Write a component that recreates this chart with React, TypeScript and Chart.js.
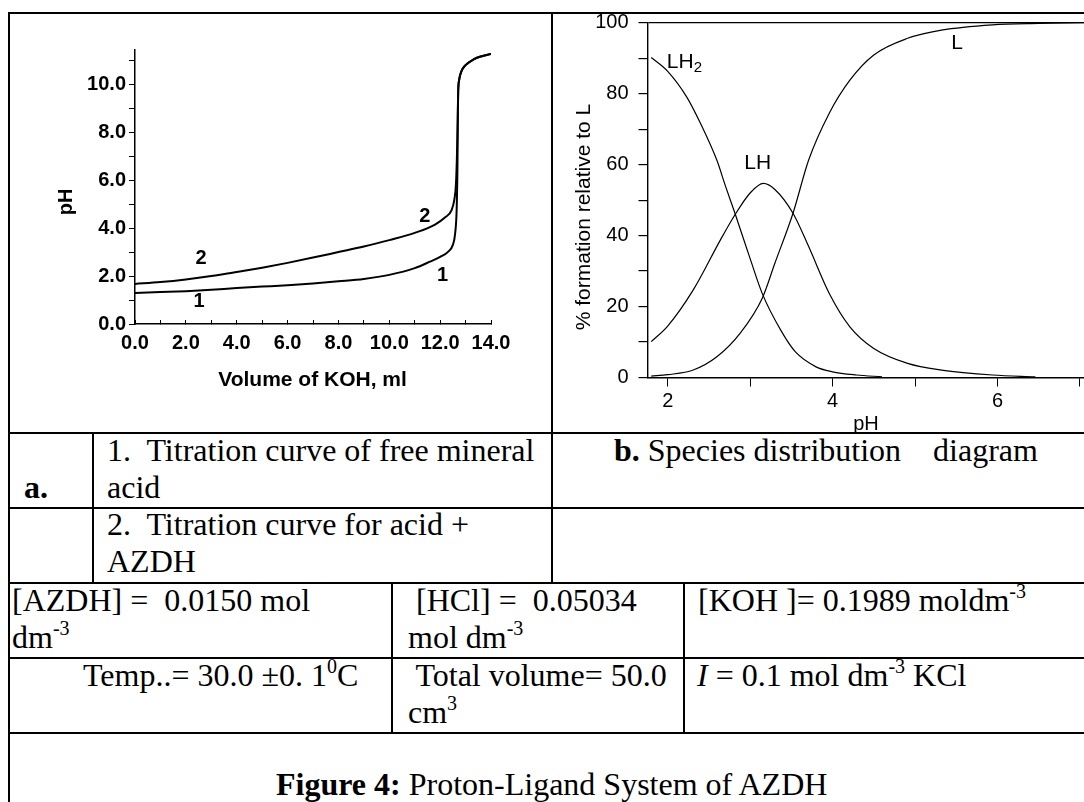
import React, { useEffect, useRef } from 'react';
import { Chart, registerables } from 'chart.js';

Chart.register(...registerables);

// ---- Chart a: titration curves (Volume of KOH, ml vs pH) ----
const volume1 = [0, 1, 2, 3, 4, 5, 6, 7, 8, 9, 10, 11, 11.6, 12.0, 12.3, 12.5, 12.59, 12.65, 12.68, 12.7, 12.71, 12.75, 12.84, 13.0, 13.3, 13.6, 14.0];
const pH1 = [1.29, 1.33, 1.37, 1.43, 1.5, 1.56, 1.62, 1.69, 1.78, 1.88, 2.05, 2.33, 2.6, 2.8, 3.0, 3.3, 3.78, 4.8, 6.5, 9.0, 9.7, 10.2, 10.55, 10.8, 11.03, 11.16, 11.27];

const volume2 = [0, 1, 2, 3, 4, 5, 6, 7, 8, 9, 10, 11, 11.8, 12.2, 12.45, 12.56, 12.62, 12.66, 12.69, 12.71, 12.75, 12.84, 13.0, 13.3, 13.6, 14.0];
const pH2 = [1.67, 1.75, 1.86, 2.0, 2.17, 2.35, 2.55, 2.77, 3.0, 3.23, 3.5, 3.8, 4.15, 4.45, 4.75, 5.2, 5.8, 7.0, 8.6, 9.7, 10.2, 10.55, 10.8, 11.03, 11.16, 11.27];

const curveLabelsA = ['2', '1', '2', '1'];

// ---- Chart b: species distribution (pH vs % formation relative to L) ----
const lh2PH = [1.8, 2.0, 2.23, 2.4, 2.6, 2.7, 2.82, 3.0, 3.15, 3.38, 3.55, 3.8, 4.0, 4.29, 4.6];
const lh2Pct = [90.2, 86.3, 79.1, 71.5, 61.0, 54.0, 46.0, 33.5, 23.5, 13.0, 7.2, 3.0, 1.6, 0.7, 0.2];

const lhPH = [1.8, 2.0, 2.31, 2.64, 2.82, 3.0, 3.16, 3.3, 3.52, 3.71, 3.96, 4.21, 4.5, 4.91, 5.32, 5.94, 6.46];
const lhPct = [10.1, 14.5, 24.7, 38.8, 46.0, 52.0, 54.7, 53.0, 46.3, 36.9, 23.7, 14.3, 8.2, 4.0, 2.1, 0.7, 0.2];

const lPH = [1.8, 2.0, 2.31, 2.6, 2.88, 3.15, 3.3, 3.52, 3.71, 3.96, 4.21, 4.5, 4.91, 5.32, 5.94, 6.5, 7.05];
const lPct = [0.4, 0.8, 2.1, 5.9, 12.5, 22.5, 32.2, 46.3, 61.3, 74.5, 83.8, 90.9, 95.6, 97.9, 99.4, 99.8, 100];

const speciesNames = ['LH', 'LH', 'L'];

const W = 1084;
const H = 802;

const pts = (xs: number[], ys: number[]) => xs.map((x, i) => ({ x, y: ys[i] }));

type Item = {
  text: string;
  sub?: string;
  x: number;
  y: number;
  data?: boolean;
  font: string;
  subFont?: string;
  align?: CanvasTextAlign;
  rotate?: number;
};

const makeTextPlugin = (items: Item[]) => ({
  id: 'textLabels',
  afterDraw(chart: any) {
    const ctx = chart.ctx as CanvasRenderingContext2D;
    for (const it of items) {
      let x = it.x;
      let y = it.y;
      if (it.data) {
        x = chart.scales.x.getPixelForValue(it.x);
        y = chart.scales.y.getPixelForValue(it.y);
      }
      ctx.save();
      ctx.fillStyle = '#000';
      ctx.font = it.font;
      ctx.textBaseline = 'middle';
      ctx.textAlign = it.align || 'center';
      ctx.translate(x, y);
      if (it.rotate) ctx.rotate(it.rotate);
      ctx.fillText(it.text, 0, 0);
      if (it.sub) {
        const w = ctx.measureText(it.text).width;
        ctx.font = it.subFont || it.font;
        ctx.textAlign = 'left';
        ctx.fillText(it.sub, w, 6);
      }
      ctx.restore();
    }
  },
});

const sansFam = '"Liberation Sans", Arial, sans-serif';

function ChartA() {
  const ref = useRef<HTMLCanvasElement>(null);
  useEffect(() => {
    if (!ref.current) return;
    const labelFont = `bold 20px ${sansFam}`;
    const items: Item[] = [
      { text: curveLabelsA[0], x: 2.6, y: 2.75, data: true, font: labelFont },
      { text: curveLabelsA[1], x: 2.52, y: 0.93, data: true, font: labelFont },
      { text: curveLabelsA[2], x: 11.4, y: 4.47, data: true, font: labelFont },
      { text: curveLabelsA[3], x: 12.1, y: 2.04, data: true, font: labelFont },
      { text: 'pH', x: 66, y: 202, font: labelFont, rotate: -Math.PI / 2 },
      { text: 'Volume of KOH, ml', x: 312.5, y: 380, font: `bold 21px ${sansFam}` },
    ];
    const chart = new Chart(ref.current, {
      type: 'scatter',
      data: {
        datasets: [
          { data: pts(volume1, pH1), showLine: true, borderColor: '#000', borderWidth: 2, pointRadius: 0, cubicInterpolationMode: 'monotone' },
          { data: pts(volume2, pH2), showLine: true, borderColor: '#000', borderWidth: 2, pointRadius: 0, cubicInterpolationMode: 'monotone' },
        ],
      },
      options: {
        animation: false,
        responsive: false,
        devicePixelRatio: 1,
        layout: { padding: { left: 0, top: 49.3, right: W - 491, bottom: 0 } },
        plugins: { legend: { display: false }, tooltip: { enabled: false } },
        scales: {
          x: {
            type: 'linear',
            min: 0,
            max: 14,
            afterFit: (s: any) => { s.height = H - 324; },
            border: { display: true, color: '#000', width: 1.5 },
            grid: { drawOnChartArea: false, tickLength: -4, color: '#000', tickColor: '#000' },
            ticks: {
              stepSize: 1,
              autoSkip: false,
              maxRotation: 0,
              includeBounds: false,
              padding: 11,
              color: '#000',
              font: { family: sansFam, size: 20, weight: 'bold' },
              callback: (v: any) => (Number(v) % 2 === 0 ? Number(v).toFixed(1) : ''),
            },
          },
          y: {
            type: 'linear',
            min: 0,
            max: 11.46,
            afterFit: (s: any) => { s.width = 135; },
            border: { display: true, color: '#000', width: 1.5 },
            grid: { drawOnChartArea: false, tickLength: 6, color: '#000', tickColor: '#000' },
            ticks: {
              stepSize: 1,
              autoSkip: false,
              includeBounds: false,
              padding: 3,
              color: '#000',
              font: { family: sansFam, size: 20, weight: 'bold' },
              callback: (v: any) => (Number(v) % 2 === 0 ? Number(v).toFixed(1) : ''),
            },
          },
        },
      } as any,
      plugins: [makeTextPlugin(items)],
    });
    return () => chart.destroy();
  }, []);
  return <canvas ref={ref} width={W} height={H} style={{ position: 'absolute', left: 0, top: 0, width: W, height: H, pointerEvents: 'none' }} />;
}

function ChartB() {
  const ref = useRef<HTMLCanvasElement>(null);
  useEffect(() => {
    if (!ref.current) return;
    const f = sansFam;
    const items: Item[] = [
      { text: speciesNames[0], sub: '2', x: 1.99, y: 89, data: true, font: `21px ${f}`, subFont: `15px ${f}`, align: 'left' },
      { text: speciesNames[1], x: 2.93, y: 60.5, data: true, font: `21px ${f}`, align: 'left' },
      { text: speciesNames[2], x: 5.44, y: 94.2, data: true, font: `21px ${f}`, align: 'left' },
      { text: '% formation relative to L', x: 584, y: 217, font: `21px ${f}`, rotate: -Math.PI / 2 },
      { text: 'pH', x: 866, y: 424, font: `20px ${f}` },
    ];
    const line = { showLine: true, borderColor: '#000', borderWidth: 1.2, pointRadius: 0, cubicInterpolationMode: 'monotone' };
    const chart = new Chart(ref.current, {
      type: 'scatter',
      data: {
        datasets: [
          { ...line, data: pts(lh2PH, lh2Pct) },
          { ...line, data: pts(lhPH, lhPct) },
          { ...line, data: pts(lPH, lPct) },
        ],
      },
      options: {
        animation: false,
        responsive: false,
        devicePixelRatio: 1,
        layout: { padding: { left: 0, top: 22.7, right: 0, bottom: 0 } },
        plugins: { legend: { display: false }, tooltip: { enabled: false } },
        scales: {
          x: {
            type: 'linear',
            min: 1.755,
            max: 7.05,
            afterFit: (s: any) => { s.height = H - 377.5; },
            border: { display: true, color: '#000', width: 1.4 },
            grid: { drawOnChartArea: false, tickLength: 9, color: '#000', tickColor: '#000' },
            ticks: {
              stepSize: 1,
              autoSkip: false,
              maxRotation: 0,
              includeBounds: false,
              padding: 3,
              color: '#000',
              font: { family: f, size: 20 },
              callback: (v: any) => (Number(v) % 2 === 0 ? String(v) : ''),
            },
          },
          y: {
            type: 'linear',
            min: 0,
            max: 100,
            afterFit: (s: any) => { s.width = 647.5; },
            border: { display: true, color: '#000', width: 1.4 },
            grid: {
              drawOnChartArea: true,
              tickLength: 9,
              lineWidth: 1.2,
              color: (c: any) => (c.tick && c.tick.value === 100 ? '#000' : 'rgba(0,0,0,0)'),
              tickColor: '#000',
            },
            ticks: {
              stepSize: 10,
              autoSkip: false,
              padding: 10,
              color: '#000',
              font: { family: f, size: 20 },
              callback: (v: any) => (Number(v) % 20 === 0 ? String(v) : ''),
            },
          },
        },
      } as any,
      plugins: [makeTextPlugin(items)],
    });
    return () => chart.destroy();
  }, []);
  return <canvas ref={ref} width={W} height={H} style={{ position: 'absolute', left: 0, top: 0, width: W, height: H, pointerEvents: 'none' }} />;
}

const Line = ({ l, t, w, h }: { l: number; t: number; w: number; h: number }) => (
  <div style={{ position: 'absolute', left: l, top: t, width: w, height: h, background: '#000' }} />
);

const sup: React.CSSProperties = { fontSize: '20px', lineHeight: 0, verticalAlign: '13px' };

const Txt = ({ l, t, children }: { l: number; t: number; children: React.ReactNode }) => (
  <div
    style={{
      position: 'absolute',
      left: l,
      top: t,
      font: '32px "Liberation Serif", "Times New Roman", serif',
      lineHeight: '37px',
      whiteSpace: 'pre',
      color: '#000',
    }}
  >
    {children}
  </div>
);

export default function App() {
  return (
    <div style={{ position: 'absolute', left: 0, top: 0, width: W, height: H, overflow: 'hidden', background: '#fff' }}>
      {/* table rules */}
      <Line l={8} t={12} w={W - 8} h={2} />
      <Line l={8} t={12} w={2} h={H - 12} />
      <Line l={8} t={432} w={W - 8} h={2} />
      <Line l={8} t={507} w={W - 8} h={2} />
      <Line l={8} t={582} w={W - 8} h={2} />
      <Line l={8} t={657} w={W - 8} h={2} />
      <Line l={8} t={732} w={W - 8} h={2} />
      <Line l={551} t={12} w={2} h={572} />
      <Line l={92} t={432} w={2} h={152} />
      <Line l={391} t={582} w={2} h={152} />
      <Line l={683} t={582} w={2} h={152} />

      {/* table text */}
      <Txt l={107} t={432}>{'1.  Titration curve of free mineral\nacid'}</Txt>
      <Txt l={24} t={469}><b>a.</b></Txt>
      <Txt l={614} t={432}><b>b.</b>{' Species distribution    diagram'}</Txt>
      <Txt l={107} t={506}>{'2.  Titration curve for acid +\nAZDH'}</Txt>
      <Txt l={12} t={582}>{'[AZDH] =  0.0150 mol\ndm'}<sup style={sup}>-3</sup></Txt>
      <Txt l={408} t={582}>{' [HCl] =  0.05034\nmol dm'}<sup style={sup}>-3</sup></Txt>
      <Txt l={698} t={582}>{'[KOH ]= 0.1989 moldm'}<sup style={sup}>-3</sup></Txt>
      <Txt l={83} t={657}>{'Temp..= 30.0 \u00b10. 1'}<sup style={sup}>0</sup>C</Txt>
      <Txt l={408} t={657}>{' Total volume= 50.0\ncm'}<sup style={sup}>3</sup></Txt>
      <Txt l={697} t={657}><i>I</i>{' = 0.1 mol dm'}<sup style={sup}>-3</sup>{' KCl'}</Txt>
      <Txt l={276} t={766}><b>Figure 4:</b>{' Proton-Ligand System of AZDH'}</Txt>

      <ChartA />
      <ChartB />
    </div>
  );
}
